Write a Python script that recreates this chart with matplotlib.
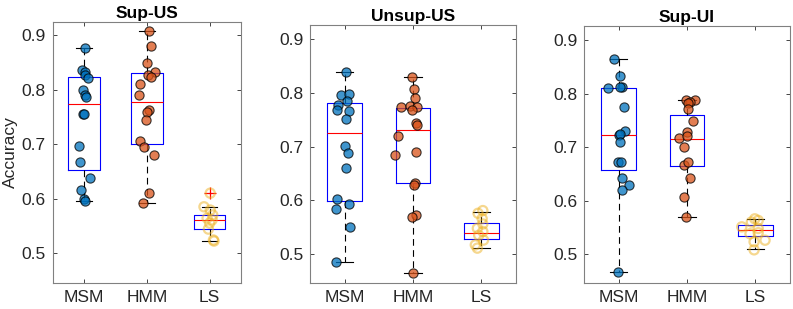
import numpy as np
import matplotlib
matplotlib.use("Agg")
import matplotlib.pyplot as plt

plt.rcParams['font.family'] = ['Liberation Sans', 'DejaVu Sans']

titles = ['Sup-US', 'Unsup-US', 'Sup-UI']
methods = ['MSM', 'HMM', 'LS']

# ---- individual points (accuracy values) and horizontal jitter
# Sup-US
sup_us_msm = [0.877, 0.837, 0.833, 0.827, 0.821, 0.800, 0.791, 0.787, 0.756, 0.755,
              0.697, 0.667, 0.637, 0.615, 0.600, 0.595]
sup_us_msm_jit = [0.01, -0.03, 0.02, 0.02, 0.06, -0.02, 0.02, 0.03, -0.01, 0.0,
                  -0.085, -0.07, 0.10, -0.05, 0.0, 0.01]
sup_us_hmm = [0.907, 0.880, 0.850, 0.833, 0.827, 0.824, 0.811, 0.790, 0.763, 0.760,
              0.744, 0.706, 0.695, 0.681, 0.611, 0.592]
sup_us_hmm_jit = [0.04, 0.06, 0.0, 0.13, 0.02, 0.06, -0.11, -0.13, 0.03, 0.0,
                  -0.02, -0.11, -0.04, 0.12, 0.03, -0.06]
sup_us_ls = [0.610, 0.585, 0.579, 0.570, 0.564, 0.561, 0.555, 0.544, 0.524, 0.522]
sup_us_ls_jit = [0.01, -0.09, 0.01, 0.05, -0.04, 0.04, 0.0, -0.02, 0.06, 0.07]

# Unsup-US
unsup_us_msm = [0.840, 0.796, 0.799, 0.786, 0.778, 0.768, 0.766, 0.751, 0.701, 0.688,
                0.660, 0.602, 0.594, 0.584, 0.550, 0.486]
unsup_us_msm_jit = [0.015, -0.05, 0.07, 0.04, -0.09, -0.11, 0.06, 0.02, 0.01, 0.05,
                    0.02, -0.11, 0.07, -0.13, 0.08, -0.13]
unsup_us_hmm = [0.830, 0.807, 0.791, 0.775, 0.776, 0.774, 0.768, 0.745, 0.740, 0.720,
                0.691, 0.684, 0.633, 0.629, 0.573, 0.569, 0.465]
unsup_us_hmm_jit = [-0.01, 0.01, 0.03, -0.18, -0.05, 0.06, -0.01, 0.05, 0.06, -0.22,
                    0.05, -0.26, 0.03, 0.02, 0.05, -0.02, 0.0]
unsup_us_ls = [0.581, 0.576, 0.566, 0.556, 0.548, 0.542, 0.535, 0.526, 0.517, 0.511]
unsup_us_ls_jit = [0.02, -0.05, 0.01, 0.02, -0.06, 0.02, -0.04, 0.03, -0.09, -0.06]

# Sup-UI
sup_ui_msm = [0.864, 0.834, 0.811, 0.812, 0.813, 0.775, 0.731, 0.722, 0.724, 0.710,
              0.672, 0.672, 0.643, 0.630, 0.620, 0.466]
sup_ui_msm_jit = [-0.07, 0.015, -0.15, 0.05, 0.025, 0.08, 0.10, 0.0, 0.02, 0.02,
                  -0.01, 0.04, 0.05, 0.15, 0.05, -0.01]
sup_ui_hmm = [0.788, 0.789, 0.785, 0.782, 0.771, 0.748, 0.728, 0.718, 0.720, 0.700,
              0.666, 0.672, 0.642, 0.606, 0.570]
sup_ui_hmm_jit = [-0.015, 0.12, 0.045, 0.02, 0.01, 0.09, 0.0, -0.11, 0.0, -0.05,
                  -0.04, 0.02, 0.05, -0.04, -0.015]
sup_ui_ls = [0.566, 0.563, 0.560, 0.551, 0.548, 0.540, 0.538, 0.526, 0.523, 0.508]
sup_ui_ls_jit = [-0.01, 0.04, -0.06, -0.2, 0.04, 0.04, -0.08, 0.14, -0.02, -0.02]

# ---- box statistics: (whisker low, q1, median, q3, whisker high)
sup_us_box = [(0.595, 0.653, 0.773, 0.823, 0.877),
              (0.592, 0.700, 0.777, 0.830, 0.907),
              (0.523, 0.545, 0.560, 0.569, 0.584)]
sup_us_fliers = [[], [], [0.610]]
unsup_us_box = [(0.486, 0.598, 0.725, 0.781, 0.840),
                (0.465, 0.632, 0.731, 0.773, 0.830),
                (0.512, 0.528, 0.540, 0.557, 0.578)]
unsup_us_fliers = [[], [], []]
sup_ui_box = [(0.466, 0.657, 0.722, 0.811, 0.864),
              (0.570, 0.664, 0.716, 0.760, 0.789),
              (0.509, 0.534, 0.545, 0.555, 0.565)]
sup_ui_fliers = [[], [], []]

panels = [
    (titles[0], [sup_us_msm, sup_us_hmm, sup_us_ls], [sup_us_msm_jit, sup_us_hmm_jit, sup_us_ls_jit], sup_us_box, sup_us_fliers),
    (titles[1], [unsup_us_msm, unsup_us_hmm, unsup_us_ls], [unsup_us_msm_jit, unsup_us_hmm_jit, unsup_us_ls_jit], unsup_us_box, unsup_us_fliers),
    (titles[2], [sup_ui_msm, sup_ui_hmm, sup_ui_ls], [sup_ui_msm_jit, sup_ui_hmm_jit, sup_ui_ls_jit], sup_ui_box, sup_ui_fliers),
]

W, H = 793, 309
fig = plt.figure(figsize=(W / 100, H / 100), dpi=100)
# axes boxes in pixels: left, top, right, bottom
boxes_px = [(52.7, 21.7, 241.0, 283.0), (310.3, 25.0, 515.7, 283.0), (584.3, 26.3, 789.7, 283.0)]
ylims = [(0.445, 0.925), (0.446, 0.927), (0.446, 0.926)]

blue = (0.0, 0.447, 0.741)
orange = (0.850, 0.325, 0.098)
yellow = (0.929, 0.694, 0.125)
dark = '#262626'

for i, (title, vals, jits, bstats, fliers) in enumerate(panels):
    l, t, r, b = boxes_px[i]
    ax = fig.add_axes([l / W, 1 - b / H, (r - l) / W, (b - t) / H])
    stats = []
    for k, (lo, q1, med, q3, hi) in enumerate(bstats):
        stats.append(dict(whislo=lo, q1=q1, med=med, q3=q3, whishi=hi, fliers=fliers[k]))
    ax.bxp(stats, positions=[1, 2, 3], widths=0.5, showfliers=True,
           boxprops=dict(color='blue', linewidth=0.8),
           medianprops=dict(color='red', linewidth=0.8),
           whiskerprops=dict(color='black', linewidth=0.8, linestyle=(0, (6, 4))),
           capprops=dict(color='black', linewidth=0.8),
           capwidths=0.25,
           flierprops=dict(marker='+', markeredgecolor='red', markersize=8, markeredgewidth=0.9))

    ax.scatter(1 + np.array(jits[0]), vals[0], s=44, color=blue, alpha=0.75,
               edgecolors='black', linewidths=0.8, zorder=3)
    ax.scatter(2 + np.array(jits[1]), vals[1], s=44, color=orange, alpha=0.75,
               edgecolors='black', linewidths=0.8, zorder=3)
    ax.scatter(3 + np.array(jits[2]), vals[2], s=44, facecolors='none',
               edgecolors=yellow, alpha=0.5, linewidths=1.6, zorder=3)

    ax.set_xlim(0.5, 3.5)
    ax.set_ylim(*ylims[i])
    ax.set_xticks([1, 2, 3])
    ax.set_xticklabels(methods)
    ax.set_yticks([0.5, 0.6, 0.7, 0.8, 0.9])
    ax.set_yticklabels(['0.5', '0.6', '0.7', '0.8', '0.9'])
    ax.tick_params(direction='in', top=True, right=True, length=3, width=0.6,
                   color=dark, labelcolor=dark, labelsize=12.5, pad=5)
    for sp in ax.spines.values():
        sp.set_color('#808080')
        sp.set_linewidth(0.8)
    ax.set_title(title, fontsize=12.5, fontweight='bold', pad=3, color='black')
    if i == 0:
        ax.set_ylabel('Accuracy', fontsize=12.5, color=dark, va='center')
        ax.yaxis.set_label_coords(-0.225, 0.5)

fig.savefig('out.png', dpi=100)
